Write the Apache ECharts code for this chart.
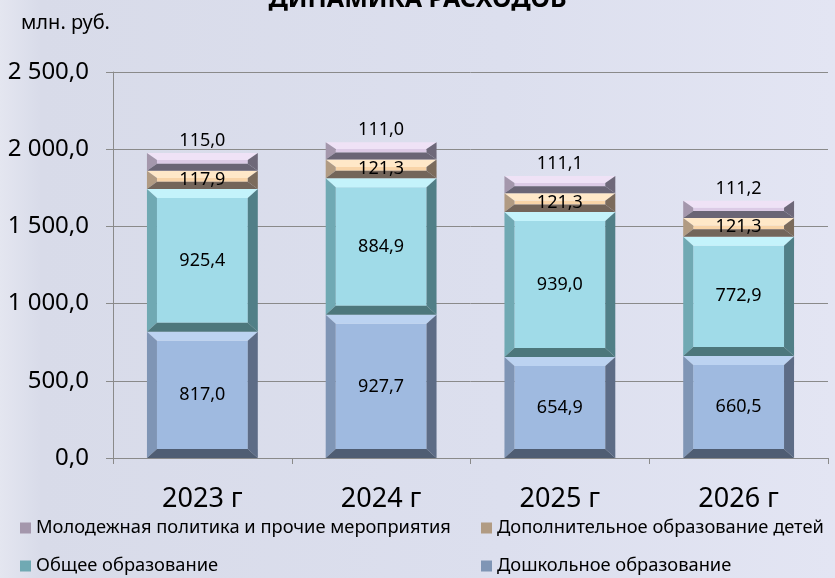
<!DOCTYPE html>
<html lang="ru">
<head>
    <meta charset="utf-8">
    <title>Динамика расходов</title>
    <script src="https://cdn.jsdelivr.net/npm/echarts@6/dist/echarts.min.js"></script>
    <style>
        html, body { margin: 0; padding: 0; }
        #chart { width: 835px; height: 578px; }
    </style>
</head>
<body>
<div id="chart"></div>
<script>
    // данные, млн. руб.
    var years = ['2023 г', '2024 г', '2025 г', '2026 г'];
    var preschool = [817.0, 927.7, 654.9, 660.5];      // Дошкольное образование
    var general = [925.4, 884.9, 939.0, 772.9];        // Общее образование
    var additional = [117.9, 121.3, 121.3, 121.3];     // Дополнительное образование детей
    var youth = [115.0, 111.0, 111.1, 111.2];          // Молодежная политика и прочие мероприятия
    var yTicks = [0, 500, 1000, 1500, 2000, 2500];

    var FONT = 'Noto Sans';

    // цвета граней: лицо, верх, лево, право, низ
    var palettes = {
        preschool: ['#9fbae0', '#bcd3f1', '#7f95b5', '#5d6c86', '#4f5d73'],
        general: ['#a0dbe8', '#c4f3fb', '#70a9b3', '#517f87', '#4d777c'],
        additional: ['#f8d4a8', '#ffe8c8', '#b19b83', '#7b6b5c', '#73655a'],
        youth: ['#dccbe6', '#efe2f6', '#a497ac', '#6e6879', '#6a6575']
    };

    function fmt(v) {
        var s = v.toFixed(1).split('.');
        return s[0].replace(/\B(?=(\d{3})+(?!\d))/g, ' ') + ',' + s[1];
    }

    // стек: основание и вершина для каждого сегмента
    var stackOrder = [preschool, general, additional, youth];
    function stackData(k) {
        return years.map(function (y, i) {
            var base = 0;
            for (var j = 0; j < k; j++) base += stackOrder[j][i];
            return [i, stackOrder[k][i], base, base + stackOrder[k][i]];
        });
    }

    function makeRender(pal, labelTop) {
        return function (params, api) {
            var cat = api.value(0);
            var p0 = api.coord([cat, api.value(2)]);
            var p1 = api.coord([cat, api.value(3)]);
            var w = api.size([1, 0])[0] * 0.62;
            var x0 = p0[0] - w / 2, x1 = x0 + w;
            var yb = p0[1], yt = p1[1], h = yb - yt;
            var bx = 10, by = Math.min(9, h * 0.4);
            function poly(pts, c) {
                return { type: 'polygon', shape: { points: pts }, style: { fill: c } };
            }
            return {
                type: 'group',
                children: [
                    { type: 'rect', shape: { x: x0 + bx, y: yt + by, width: w - 2 * bx, height: Math.max(0, h - 2 * by) }, style: { fill: pal[0] } },
                    poly([[x0, yt], [x1, yt], [x1 - bx, yt + by], [x0 + bx, yt + by]], pal[1]),
                    poly([[x0, yt], [x0 + bx, yt + by], [x0 + bx, yb - by], [x0, yb]], pal[2]),
                    poly([[x1, yt], [x1 - bx, yt + by], [x1 - bx, yb - by], [x1, yb]], pal[3]),
                    poly([[x0, yb], [x1, yb], [x1 - bx, yb - by], [x0 + bx, yb - by]], pal[4]),
                    {
                        type: 'rect',
                        shape: { x: x0, y: yt, width: w, height: h },
                        style: { fill: 'rgba(0,0,0,0)' },
                        z2: 10,
                        textContent: {
                            style: { text: fmt(api.value(1)), fill: '#000', fontSize: 18, fontFamily: FONT }
                        },
                        textConfig: { position: labelTop ? 'top' : 'inside', distance: 3 }
                    }
                ]
            };
        };
    }

    function makeSeries(name, k, pal, labelTop) {
        return {
            name: name,
            type: 'custom',
            renderItem: makeRender(pal, labelTop),
            itemStyle: { color: pal[2] },
            encode: { x: 0, y: [2, 3] },
            data: stackData(k),
            z: 2
        };
    }

    var chart = echarts.init(document.getElementById('chart'));

    var legendText = { fontSize: 18.3, color: '#000', fontFamily: FONT };

    chart.setOption({
        backgroundColor: {
            type: 'linear', x: 0, y: 0, x2: 1, y2: 0,
            colorStops: [
                { offset: 0, color: '#e4e6f0' },
                { offset: 0.05, color: '#d8dbe9' },
                { offset: 0.6, color: '#dcdfee' },
                { offset: 1, color: '#e3e5f3' }
            ]
        },
        animation: false,
        title: [{
            text: 'ДИНАМИКА РАСХОДОВ',
            left: 'center',
            top: -18,
            textStyle: { fontSize: 25, fontWeight: 'bold', color: '#000', fontFamily: FONT }
        }, {
            text: 'млн. руб.',
            left: 16,
            top: 8,
            textStyle: { fontSize: 20, fontWeight: 'normal', color: '#000', fontFamily: FONT }
        }],
        grid: { left: 113, right: 7, top: 72, bottom: 120 },
        legend: [{
            orient: 'vertical',
            left: 20,
            top: 519,
            height: 70,
            padding: 0,
            itemGap: 20,
            itemWidth: 11,
            itemHeight: 11,
            icon: 'rect',
            textStyle: legendText,
            data: ['Молодежная политика и прочие мероприятия', 'Общее образование']
        }, {
            orient: 'vertical',
            left: 481,
            top: 519,
            height: 70,
            padding: 0,
            itemGap: 20,
            itemWidth: 11,
            itemHeight: 11,
            icon: 'rect',
            textStyle: legendText,
            data: ['Дополнительное образование детей', 'Дошкольное образование']
        }],
        xAxis: {
            type: 'category',
            data: years,
            axisLine: { lineStyle: { color: '#8a8a8a', width: 1 } },
            axisTick: { show: true, length: 6, lineStyle: { color: '#8a8a8a' } },
            axisLabel: { fontSize: 27, color: '#000', margin: 28, fontFamily: FONT }
        },
        yAxis: {
            type: 'value',
            min: yTicks[0],
            max: yTicks[yTicks.length - 1],
            interval: yTicks[1] - yTicks[0],
            axisLine: { show: true, lineStyle: { color: '#8a8a8a', width: 1 } },
            axisTick: { show: true, length: 7, lineStyle: { color: '#8a8a8a' } },
            splitLine: { lineStyle: { color: '#8a8a8a', width: 1 } },
            axisLabel: { fontSize: 24, color: '#000', margin: 24, fontFamily: FONT, formatter: fmt }
        },
        series: [
            makeSeries('Дошкольное образование', 0, palettes.preschool, false),
            makeSeries('Общее образование', 1, palettes.general, false),
            makeSeries('Дополнительное образование детей', 2, palettes.additional, false),
            makeSeries('Молодежная политика и прочие мероприятия', 3, palettes.youth, true)
        ]
    });
</script>
</body>
</html>
